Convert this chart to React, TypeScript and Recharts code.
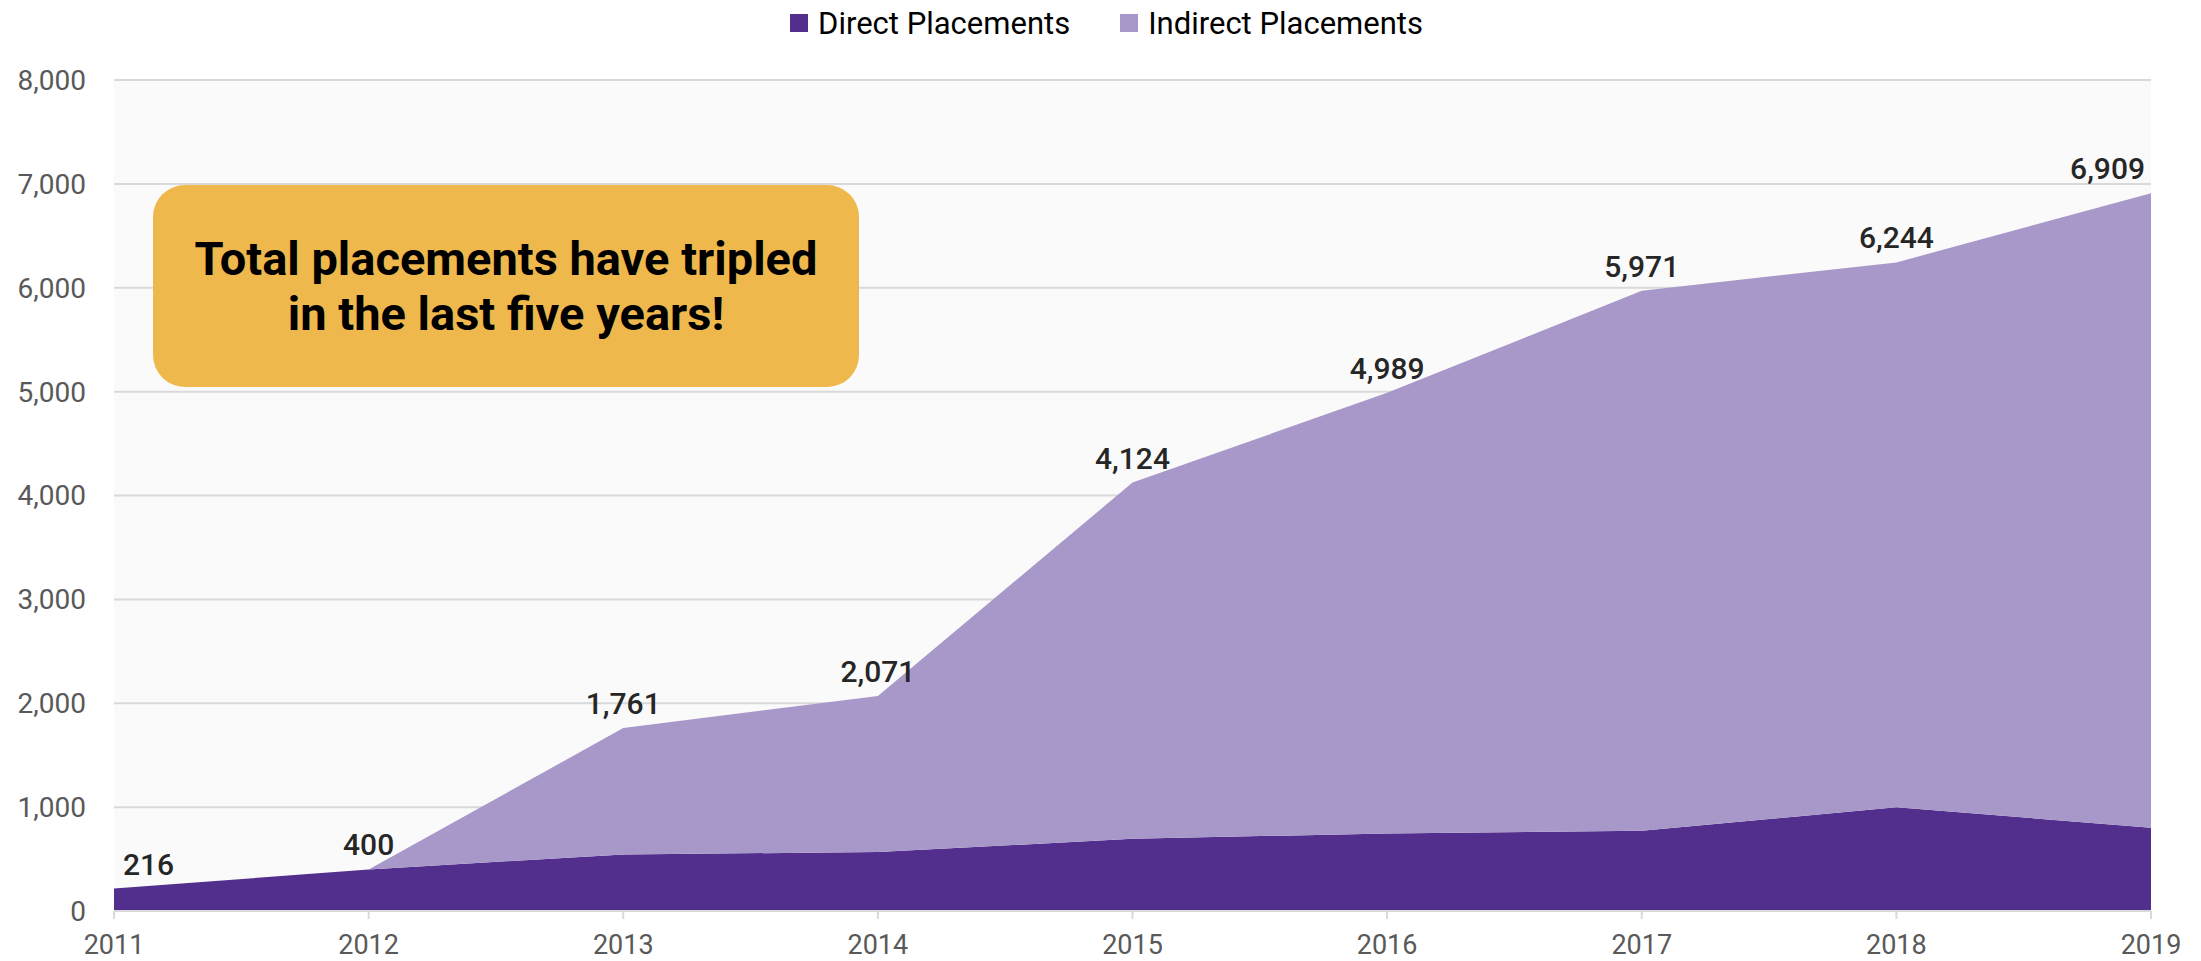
import { AreaChart, Area, XAxis, YAxis, CartesianGrid, Legend, LabelList } from "recharts"

const years = ["2011", "2012", "2013", "2014", "2015", "2016", "2017", "2018", "2019"]
const totals = [216, 400, 1761, 2071, 4124, 4989, 5971, 6244, 6909]
const direct = [216, 400, 545, 567, 695, 747, 772, 1000, 801]
const indirect = [0, 0, 1216, 1504, 3429, 4242, 5199, 5244, 6108]
const yTicks = [0, 1000, 2000, 3000, 4000, 5000, 6000, 7000, 8000]

const DIRECT_COLOR = "#522E8D"
const INDIRECT_COLOR = "#A898C9"
const FONT = "Roboto, 'Noto Sans', sans-serif"

const data = years.map((year, i) => ({
  year,
  direct: direct[i],
  indirect: indirect[i],
}))

// total shown on top of the stack, nudged inside the plot at the ends
const TotalLabel = (props: any) => {
  const { x, y, index } = props
  const first = index === 0
  const last = index === years.length - 1
  const anchor = first ? "start" : last ? "end" : "middle"
  const dx = first ? 9 : last ? -6 : 0
  return (
    <text x={x + dx} y={y - 14} textAnchor={anchor} fontSize={30} fontWeight={500} fill="#262626" fontFamily={FONT}>
      {totals[index].toLocaleString("en-US")}
    </text>
  )
}

const renderLegend = (props: any) => {
  const { payload } = props
  return (
    <div style={{ display: "flex", justifyContent: "center", height: 72, paddingLeft: 12, boxSizing: "border-box" }}>
      {payload.map((entry: any, i: number) => (
        <div key={i} style={{ display: "flex", alignItems: "center", height: 30, marginLeft: i > 0 ? 50 : 0 }}>
          <span style={{ width: 18, height: 18, background: entry.color, marginRight: 10, display: "inline-block" }} />
          <span style={{ fontSize: 31, color: "#000", fontFamily: FONT }}>{entry.value}</span>
        </div>
      ))}
    </div>
  )
}

export default function App() {
  return (
    <div style={{ position: "relative", width: 2185, height: 953 }}>
      <AreaChart
        width={2185}
        height={953}
        data={data}
        margin={{ top: 0, right: 42, bottom: 10, left: 0 }}
        style={{ fontFamily: FONT }}
      >
        <CartesianGrid vertical={false} stroke="#D9D9D9" strokeWidth={2} fill="#FAFAFA" />
        <XAxis
          dataKey="year"
          axisLine={{ stroke: "#D9D9D9", strokeWidth: 2 }}
          tickLine={{ stroke: "#D9D9D9", strokeWidth: 2 }}
          tickSize={8}
          tickMargin={16}
          height={40}
          interval={0}
          tick={{ fill: "#595959", fontSize: 27 }}
        />
        <YAxis
          width={106}
          domain={[0, 8000]}
          ticks={yTicks}
          axisLine={false}
          tickLine={false}
          tickSize={0}
          tickMargin={28}
          tickFormatter={(v: number) => v.toLocaleString("en-US")}
          tick={{ fill: "#595959", fontSize: 28 }}
        />
        <Legend verticalAlign="top" content={renderLegend} wrapperStyle={{ left: 0, width: 2185 }} />
        <Area
          type="linear"
          dataKey="direct"
          name="Direct Placements"
          stackId="a"
          stroke="none"
          fill={DIRECT_COLOR}
          fillOpacity={1}
          isAnimationActive={false}
        />
        <Area
          type="linear"
          dataKey="indirect"
          name="Indirect Placements"
          stackId="a"
          stroke="none"
          fill={INDIRECT_COLOR}
          fillOpacity={1}
          isAnimationActive={false}
        >
          <LabelList dataKey="indirect" content={TotalLabel} />
        </Area>
      </AreaChart>
      <div
        style={{
          position: "absolute",
          left: 145,
          top: 177,
          width: 706,
          height: 202,
          background: "#EEB84C",
          borderRadius: 32,
          display: "flex",
          flexDirection: "column",
          justifyContent: "center",
          alignItems: "center",
          fontFamily: FONT,
          fontWeight: 700,
          fontSize: 47,
          lineHeight: "55px",
          color: "#000",
        }}
      >
        <div>Total placements have tripled</div>
        <div>in the last five years!</div>
      </div>
    </div>
  )
}
